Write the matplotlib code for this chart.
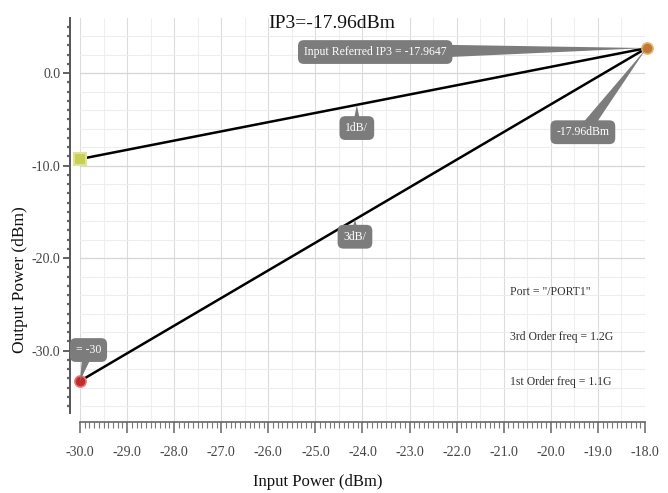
import numpy as np
import matplotlib
matplotlib.use("Agg")
import matplotlib.pyplot as plt

plt.rcParams['font.family'] = ['Liberation Serif', 'DejaVu Serif']

# data
pin = [-30.0, -17.9647]            # input power (dBm)
fund = [-9.3, 2.7]                 # 1st order output (dBm)
third = [-33.3, 2.7]               # 3rd order output (dBm)
ip3_in = -17.9647
ip3_out = 2.7
xticks = np.arange(-30, -17, 1)
yticks = [0, -10, -20, -30]
info = ['Port = "/PORT1"', '3rd Order freq = 1.2G', '1st Order freq = 1.1G']

fig = plt.figure(figsize=(6.68, 4.93), dpi=100)
ax = fig.add_axes([80/668, 71/493, 565/668, 404/493])
ax.set_xlim(-30, -18)
ax.set_ylim(-37.73, 5.95)

# grid
for x in np.arange(-30, -17.9, 0.5):
    ax.axvline(x, color='#dcdcdc' if x % 1 == 0 else '#efefef', lw=0.8, zorder=0)
for y in np.arange(-36, 6, 2):
    ax.axhline(y, color='#d6d6d6' if y % 10 == 0 else '#ededed', lw=0.9 if y % 10 == 0 else 0.8, zorder=0)

# lines + markers
ax.plot(pin, fund, color='black', lw=1.8, zorder=3)
ax.plot(pin, third, color='black', lw=1.8, zorder=3)
ax.plot(pin[0], fund[0], 's', ms=8, mfc='#c9cf52', mec='#dfe39a', mew=1.5, zorder=4, clip_on=False)
ax.plot(pin[0], third[0], 'o', ms=8, mfc='#c42a2a', mec='#e07777', mew=1.2, zorder=4, clip_on=False)
ax.plot(ip3_in, ip3_out, 'o', ms=8, mfc='#c07a35', mec='#e8b070', mew=1.2, zorder=4, clip_on=False)

# spines / ticks
for s in ['top', 'right']:
    ax.spines[s].set_visible(False)
ax.spines['left'].set_position(('outward', 7.2))
ax.spines['left'].set_bounds(-36.8, 5.9)
ax.spines['left'].set_color('#555555')
ax.spines['left'].set_linewidth(1.4)
ax.spines['bottom'].set_color('#666666')
ax.spines['bottom'].set_linewidth(1.2)

ax.set_xticks(xticks)
ax.set_xticklabels(['%.1f' % v for v in xticks])
ax.set_xticks(np.arange(-30, -17.95, 0.1), minor=True)
ax.set_yticks(yticks)
ax.set_yticklabels(['%.1f' % v for v in yticks])
ax.set_yticks(np.arange(-36, 6, 1), minor=True)
ax.tick_params(axis='x', which='major', length=8, width=1.1, color='#666666',
               labelsize=10, labelcolor='#444444', pad=9)
ax.tick_params(axis='x', which='minor', length=4, width=0.8, color='#777777')
ax.tick_params(axis='y', which='major', length=5, width=1.3, color='#555555',
               labelsize=10, labelcolor='#444444', pad=2)
ax.tick_params(axis='y', which='minor', length=2.5, width=1.6, color='#666666')

fig.text(332/668, 1 - 24/493, 'IP3=-17.96dBm', ha='center', va='center', fontsize=14, color='#111111')
fig.text(318/668, 1 - 482/493, 'Input Power (dBm)', ha='center', va='center', fontsize=12, color='#111111')
fig.text(20/668, 1 - 280/493, 'Output Power (dBm)', ha='center', va='center', rotation=90,
         fontsize=12.5, color='#111111')

# callout labels
box = dict(boxstyle='round,pad=0.5', fc='#7c7c7c', ec='none')
def callout(txt, xy, xytext, tw):
    return ax.annotate(txt, xy=xy, xytext=xytext, textcoords='data', ha='center', va='center',
                       fontsize=8.5, color='white', bbox=box, zorder=5,
                       arrowprops=dict(arrowstyle='wedge,tail_width=%.2f' % tw, fc='#7c7c7c',
                                       ec='none', shrinkB=0, patchA=None), annotation_clip=False)

callout('Input Referred IP3 = -17.9647', (ip3_in, ip3_out), (-23.73, 2.27), 1.4)
callout('1dB/', (-24.12, np.interp(-24.12, pin, fund)), (-24.12, -5.95), 0.7)
callout('3dB/', (-24.16, np.interp(-24.16, pin, third)), (-24.16, -17.7), 0.7)
callout('-17.96dBm', (ip3_in, ip3_out), (-19.32, -6.4), 1.0)
callout('= -30', (pin[0], third[0]), (-29.82, -29.95), 0.9)

for i, t in enumerate(info):
    fig.text(510/668, 1 - (292 + 45*i)/493, t, ha='left', va='center', fontsize=8.5, color='#333333')

fig.savefig('out.png', dpi=100)
